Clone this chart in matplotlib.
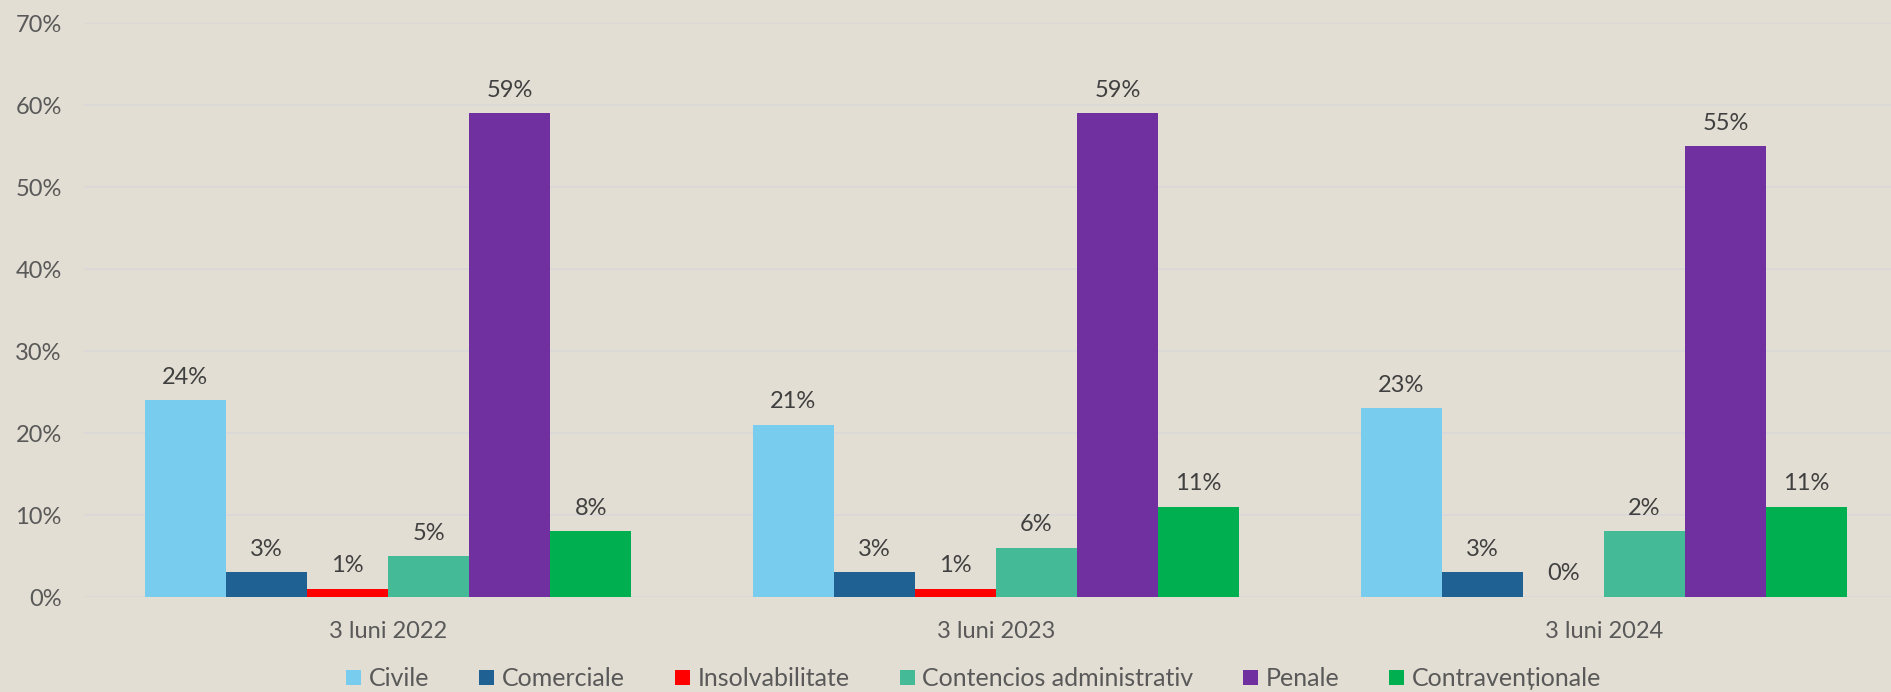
import numpy as np
import matplotlib.pyplot as plt
from matplotlib.ticker import PercentFormatter

# data
periods = ["3 luni 2022", "3 luni 2023", "3 luni 2024"]
series = ["Civile", "Comerciale", "Insolvabilitate", "Contencios administrativ",
          "Penale", "Contravenționale"]
civile = [24, 21, 23]
comerciale = [3, 3, 3]
insolvabilitate = [1, 1, 0]
contencios = [5, 6, 8]
penale = [59, 59, 55]
contraventionale = [8, 11, 11]
# data labels as printed on the chart
lbl_civile = ["24%", "21%", "23%"]
lbl_comerciale = ["3%", "3%", "3%"]
lbl_insolv = ["1%", "1%", "0%"]
lbl_contencios = ["5%", "6%", "2%"]
lbl_penale = ["59%", "59%", "55%"]
lbl_contrav = ["8%", "11%", "11%"]

values = [civile, comerciale, insolvabilitate, contencios, penale, contraventionale]
labels = [lbl_civile, lbl_comerciale, lbl_insolv, lbl_contencios, lbl_penale, lbl_contrav]
colors = ["#78CDEF", "#1E6192", "#FF0000", "#44BA97", "#7030A0", "#00AF50"]

bg = "#E3DED3"
plt.rcParams['font.family'] = ['Lato', 'DejaVu Sans']

fig = plt.figure(figsize=(18.91, 6.92), dpi=100, facecolor=bg)
# plot area runs a little past the right edge, as in the original
ax = fig.add_axes([84/1891, 1-597/692, 1824/1891, (597-23)/692])
ax.set_facecolor(bg)

x = np.arange(len(periods))
n = len(series)
gw = 0.80
w = gw / n
for i in range(n):
    pos = x - gw/2 + w*(i+0.5)
    bars = ax.bar(pos, values[i], w, color=colors[i], label=series[i], zorder=3)
    for b, t in zip(bars, labels[i]):
        ax.annotate(t, (b.get_x()+b.get_width()/2, b.get_height()),
                    xytext=(0, 9), textcoords='offset points',
                    ha='center', va='bottom', fontsize=17, color='#404040')

ax.set_ylim(0, 70)
ax.set_xlim(-0.5, 2.5)
ax.set_yticks(range(0, 71, 10))
ax.yaxis.set_major_formatter(PercentFormatter(decimals=0))
ax.set_xticks(x)
ax.set_xticklabels(periods)
ax.tick_params(axis='both', length=0, labelsize=17, labelcolor='#595959')
ax.tick_params(axis='x', pad=17)
ax.tick_params(axis='y', pad=16)
ax.grid(axis='y', color='#D9D9D9', linewidth=1.2, zorder=0)
for s in ax.spines.values():
    s.set_visible(False)

leg = fig.legend(loc='lower center', ncol=6, frameon=False, fontsize=18,
                 bbox_to_anchor=(0.515, -0.03), handlelength=0.6, handleheight=0.6,
                 handletextpad=0.3, columnspacing=2.0, labelcolor='#595959')

fig.savefig("out.png", dpi=100, facecolor=bg)
